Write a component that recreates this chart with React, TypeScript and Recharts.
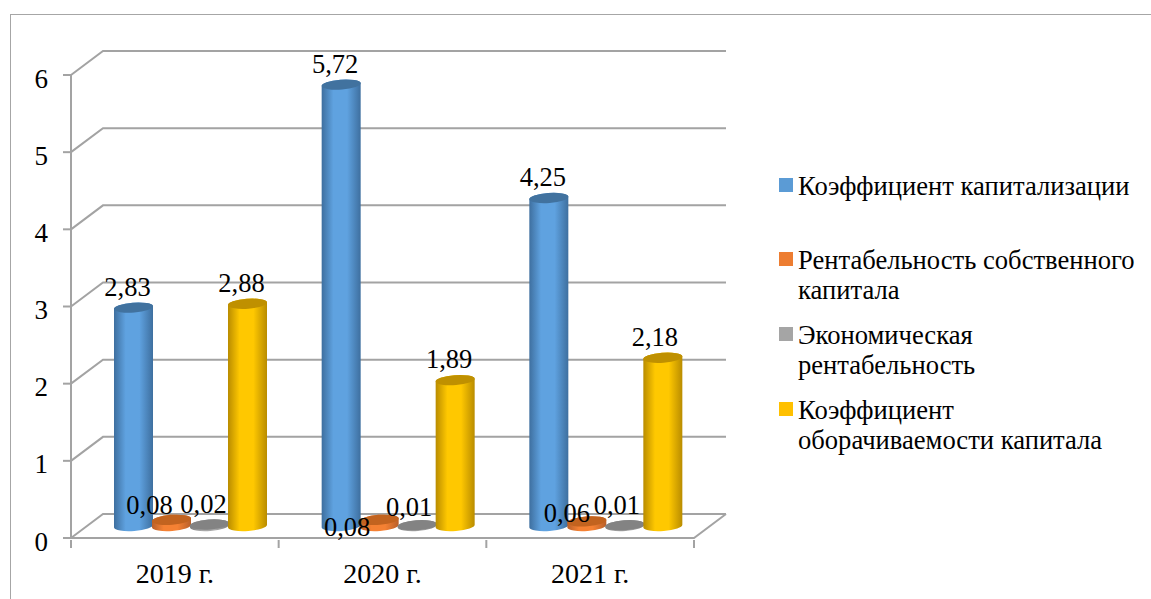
import { BarChart, Bar, XAxis, YAxis, CartesianGrid, Legend, LabelList } from 'recharts';

const categories = ['2019 г.', '2020 г.', '2021 г.'];
const capitalization = [2.83, 5.72, 4.25];
const equityReturn = [0.08, 0.08, 0.06];
const economicReturn = [0.02, 0.01, 0.01];
const turnover = [2.88, 1.89, 2.18];
const yTicks = [0, 1, 2, 3, 4, 5, 6];

const seriesNames = [
  'Коэффициент капитализации',
  'Рентабельность собственного капитала',
  'Экономическая рентабельность',
  'Коэффициент оборачиваемости капитала',
];

const dados = categories.map((c, i) => ({
  category: c,
  capitalization: capitalization[i],
  equityReturn: equityReturn[i],
  economicReturn: economicReturn[i],
  turnover: turnover[i],
}));

const FONT = '"Liberation Serif", "Times New Roman", serif';
const GRID = '#a3a3a3';
// offset of the chart's back wall, and of the cylinders standing halfway to it
const DEPTH_X = 32;
const DEPTH_Y = 24;
const BAR_DX = 16;
const BAR_DY = 12;
const RY = 5;
const TILT = 1.5;
const CATEGORY_WIDTH = 207.67;

const colors = [
  { id: 'blue', edge: '#3e6f9f', mid: '#5fa2e0', top: '#41729f', legend: '#5b9bd5' },
  { id: 'orange', edge: '#b9602a', mid: '#f58133', top: '#c2631f', legend: '#ed7d31' },
  { id: 'grey', edge: '#7f7f7f', mid: '#a8a8a8', top: '#838383', legend: '#a5a5a5' },
  { id: 'yellow', edge: '#b98c00', mid: '#ffc800', top: '#bf9000', legend: '#ffc000' },
];

// per-label nudges [dx, dy] from the cylinder top, by series then category
const labelNudges = [
  [[-6, -21], [-6, -21], [-6, -21]],
  [[-22, -15], [-32, 7], [-20, -8]],
  [[-6, -20], [-8, -18], [-8, -20]],
  [[-6, -21], [-6, -21], [-8, -21]],
];

function Cylinder(props: any) {
  const { x, y, width, height, seriesIndex } = props;
  const c = colors[seriesIndex];
  const l = x + BAR_DX;
  const r = l + width;
  const top = y - BAR_DY;
  const bot = top + height;
  const arc = `${width / 2} ${RY} -4`;
  const side = `M${l} ${top + TILT} L${l} ${bot + TILT} A${arc} 0 0 ${r} ${bot - TILT} L${r} ${top - TILT} A${arc} 0 0 ${l} ${top + TILT} Z`;
  const cap = `M${l} ${top + TILT} A${arc} 0 0 ${r} ${top - TILT} A${arc} 0 0 ${l} ${top + TILT} Z`;
  return (
    <g>
      <path d={side} fill={`url(#${c.id})`} />
      <path d={cap} fill={c.top} />
    </g>
  );
}

function valueLabel(seriesIndex: number) {
  return (props: any) => {
    const { x, y, width, value, index } = props;
    const [dx, dy] = labelNudges[seriesIndex][index];
    return (
      <text
        x={x + BAR_DX + width / 2 + dx}
        y={y - BAR_DY + dy}
        textAnchor="middle"
        dominantBaseline="central"
        fontFamily={FONT}
        fontSize={26.5}
        fill="#000"
      >
        {String(value).replace('.', ',')}
      </text>
    );
  };
}

// back wall and floor: every horizontal grid line folds back into depth
function GridLine(props: any) {
  const { x1, x2, y1 } = props;
  const backY = y1 - DEPTH_Y;
  const isFloor = Math.abs(y1 - 538) < 1;
  return (
    <g fill="none" stroke={GRID} strokeWidth={2}>
      <polyline points={`${x1},${y1} ${x1 + DEPTH_X},${backY} ${x2 + DEPTH_X},${backY}`} />
      {isFloor && <polyline points={`${x1},${y1} ${x2},${y1} ${x2 + DEPTH_X},${backY}`} />}
    </g>
  );
}

function CategoryTick(props: any) {
  const { x, y, payload, index } = props;
  const left = x - CATEGORY_WIDTH / 2;
  const right = x + CATEGORY_WIDTH / 2;
  return (
    <g>
      <line x1={left} x2={left} y1={y - 6} y2={y + 2} stroke={GRID} strokeWidth={2} />
      {index === categories.length - 1 && <line x1={right} x2={right} y1={y - 6} y2={y + 2} stroke={GRID} strokeWidth={2} />}
      <text x={x} y={y + 27} textAnchor="middle" dominantBaseline="central" fontFamily={FONT} fontSize={28} fill="#000">
        {payload.value}
      </text>
    </g>
  );
}

const legendTops = [171, 245, 320, 395];

function ChartLegend() {
  return (
    <div style={{ position: 'relative', width: 372, height: 310, fontFamily: FONT, fontSize: 26.6, lineHeight: '30px', color: '#000' }}>
      {seriesNames.map((name, i) => (
        <div key={name} style={{ position: 'absolute', left: 0, top: legendTops[i] - 171 }}>
          <span style={{ position: 'absolute', left: 0, top: 7, width: 14, height: 14, background: colors[i].legend }} />
          <div style={{ marginLeft: 19, width: 345 }}>{name}</div>
        </div>
      ))}
    </div>
  );
}

export default function App() {
  const keys = ['capitalization', 'equityReturn', 'economicReturn', 'turnover'];
  return (
    <div style={{ position: 'absolute', left: 0, top: 0, width: 1151, height: 599, overflow: 'hidden', background: '#fff' }}>
      <div style={{ position: 'absolute', left: 10, top: 14, width: 1200, height: 700, border: '1px solid #a6a6a6' }} />
      <BarChart
        width={1151}
        height={599}
        data={dados}
        margin={{ top: 75, right: 85, bottom: 0, left: 0 }}
        barSize={39}
        barGap={-1}
        style={{ position: 'absolute', left: 0, top: 0 }}
      >
        <defs>
          {colors.map(c => (
            <linearGradient key={c.id} id={c.id} x1="0" y1="0" x2="1" y2="0">
              <stop offset="0%" stopColor={c.edge} />
              <stop offset="30%" stopColor={c.mid} />
              <stop offset="65%" stopColor={c.mid} />
              <stop offset="100%" stopColor={c.edge} />
            </linearGradient>
          ))}
        </defs>
        <CartesianGrid vertical={false} horizontal={GridLine as any} />
        <XAxis
          dataKey="category"
          height={61}
          axisLine={{ stroke: GRID, strokeWidth: 2 }}
          tickLine={false}
          tick={CategoryTick as any}
          interval={0}
        />
        <YAxis
          domain={[0, 6]}
          ticks={yTicks}
          width={71}
          axisLine={{ stroke: GRID, strokeWidth: 2 }}
          tickLine={{ stroke: GRID, strokeWidth: 2 }}
          tickSize={8}
          tickMargin={15}
          tick={{ fontFamily: FONT, fontSize: 27, fill: '#000', dy: 3 }}
        />
        <Legend
          layout="vertical"
          align="right"
          verticalAlign="top"
          wrapperStyle={{ left: 779, top: 171, width: 372 }}
          content={<ChartLegend />}
        />
        {keys.map((k, i) => (
          <Bar
            key={k}
            dataKey={k}
            name={seriesNames[i]}
            fill={colors[i].legend}
            isAnimationActive={false}
            shape={(p: any) => <Cylinder {...p} seriesIndex={i} />}
          >
            <LabelList dataKey={k} content={valueLabel(i) as any} />
          </Bar>
        ))}
      </BarChart>
    </div>
  );
}
